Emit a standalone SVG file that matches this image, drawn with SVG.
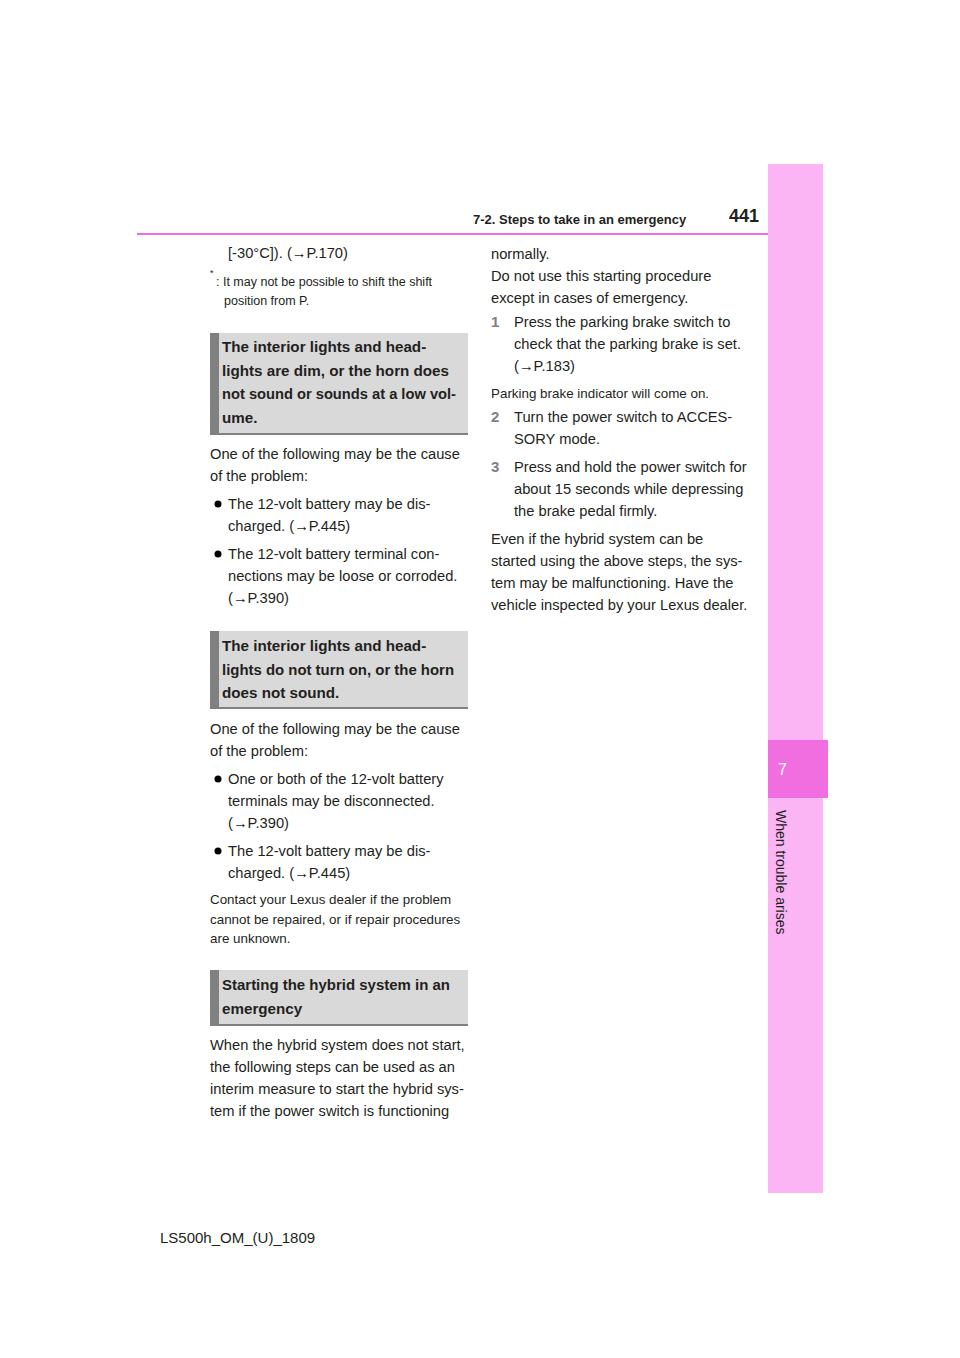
<svg xmlns="http://www.w3.org/2000/svg" width="960" height="1358" viewBox="0 0 960 1358">
<style>
text{font-family:"Liberation Sans",Arial,sans-serif;fill:#231f20}
.b{font-size:14.7px}
.s{font-size:13.4px}
.h{font-size:15.2px;font-weight:bold}
.n{font-size:15px;font-weight:bold;fill:#808080}
.hb{fill:#d9d9d9}
.hl{fill:#808080}
</style>
<rect width="960" height="1358" fill="#fff"/>
<rect x="768" y="164" width="55" height="1029" fill="#fbb5f5"/>
<rect x="768" y="740" width="60" height="58" fill="#f06ee0"/>
<text x="778" y="775" style="fill:#fff;font-size:16px">7</text>
<text transform="translate(776,810) rotate(90)" style="font-size:14px">When trouble arises</text>
<rect x="137" y="233" width="631" height="2" fill="#f06ee0"/>
<text x="473" y="224" style="font-size:13px;font-weight:bold">7-2. Steps to take in an emergency</text>
<text x="729" y="222" style="font-size:18px;font-weight:bold">441</text>

<text x="228" y="258" class="b">[-30°C]). (→P.170)</text>
<text x="210" y="276" style="font-size:9px">*</text>
<text x="216" y="286" class="s" style="font-size:12.5px">:  It may not be possible to shift the shift</text>
<text x="224" y="305" class="s" style="font-size:12.5px">position from P.</text>

<g id="h1"><rect x="210" y="333" width="258" height="102" class="hb"/><rect x="210" y="333" width="9" height="102" class="hl"/><rect x="210" y="433" width="258" height="2" class="hl"/>
<text x="222" y="352" class="h">The interior lights and head-</text><text x="222" y="376" class="h">lights are dim, or the horn does</text><text x="222" y="399" class="h" textLength="234" lengthAdjust="spacingAndGlyphs">not sound or sounds at a low vol-</text><text x="222" y="423" class="h">ume.</text></g>
<text x="210" y="459" class="b">One of the following may be the cause</text>
<text x="210" y="481" class="b">of the problem:</text>
<circle cx="218" cy="504" r="3.5"/>
<text x="228" y="509" class="b">The 12-volt battery may be dis-</text>
<text x="228" y="531" class="b">charged. (→P.445)</text>
<circle cx="218" cy="554" r="3.5"/>
<text x="228" y="559" class="b">The 12-volt battery terminal con-</text>
<text x="228" y="581" class="b">nections may be loose or corroded.</text>
<text x="228" y="603" class="b">(→P.390)</text>

<g id="h2"><rect x="210" y="631" width="258" height="78" class="hb"/><rect x="210" y="631" width="9" height="78" class="hl"/><rect x="210" y="707" width="258" height="2" class="hl"/>
<text x="222" y="651" class="h">The interior lights and head-</text><text x="222" y="675" class="h" textLength="232" lengthAdjust="spacingAndGlyphs">lights do not turn on, or the horn</text><text x="222" y="698" class="h">does not sound.</text></g>
<text x="210" y="734" class="b">One of the following may be the cause</text>
<text x="210" y="756" class="b">of the problem:</text>
<circle cx="218" cy="779" r="3.5"/>
<text x="228" y="784" class="b">One or both of the 12-volt battery</text>
<text x="228" y="806" class="b">terminals may be disconnected.</text>
<text x="228" y="828" class="b">(→P.390)</text>
<circle cx="218" cy="851" r="3.5"/>
<text x="228" y="856" class="b">The 12-volt battery may be dis-</text>
<text x="228" y="878" class="b">charged. (→P.445)</text>
<text x="210" y="904" class="s">Contact your Lexus dealer if the problem</text>
<text x="210" y="924" class="s">cannot be repaired, or if repair procedures</text>
<text x="210" y="943" class="s">are unknown.</text>

<g id="h3"><rect x="210" y="970" width="258" height="56" class="hb"/><rect x="210" y="970" width="9" height="56" class="hl"/><rect x="210" y="1024" width="258" height="2" class="hl"/>
<text x="222" y="990" class="h" textLength="228" lengthAdjust="spacingAndGlyphs">Starting the hybrid system in an</text><text x="222" y="1014" class="h">emergency</text></g>
<text x="210" y="1050" class="b">When the hybrid system does not start,</text>
<text x="210" y="1072" class="b">the following steps can be used as an</text>
<text x="210" y="1094" class="b">interim measure to start the hybrid sys-</text>
<text x="210" y="1116" class="b">tem if the power switch is functioning</text>

<text x="491" y="259" class="b">normally.</text>
<text x="491" y="281" class="b">Do not use this starting procedure</text>
<text x="491" y="303" class="b">except in cases of emergency.</text>
<text x="491" y="327" class="n">1</text>
<text x="514" y="327" class="b">Press the parking brake switch to</text>
<text x="514" y="349" class="b">check that the parking brake is set.</text>
<text x="514" y="371" class="b">(→P.183)</text>
<text x="491" y="398" class="s">Parking brake indicator will come on.</text>
<text x="491" y="422" class="n">2</text>
<text x="514" y="422" class="b">Turn the power switch to ACCES-</text>
<text x="514" y="444" class="b">SORY mode.</text>
<text x="491" y="472" class="n">3</text>
<text x="514" y="472" class="b">Press and hold the power switch for</text>
<text x="514" y="494" class="b">about 15 seconds while depressing</text>
<text x="514" y="516" class="b">the brake pedal firmly.</text>
<text x="491" y="544" class="b">Even if the hybrid system can be</text>
<text x="491" y="566" class="b">started using the above steps, the sys-</text>
<text x="491" y="588" class="b">tem may be malfunctioning. Have the</text>
<text x="491" y="610" class="b">vehicle inspected by your Lexus dealer.</text>

<text x="160" y="1243" style="font-size:15px">LS500h_OM_(U)_1809</text>
</svg>
